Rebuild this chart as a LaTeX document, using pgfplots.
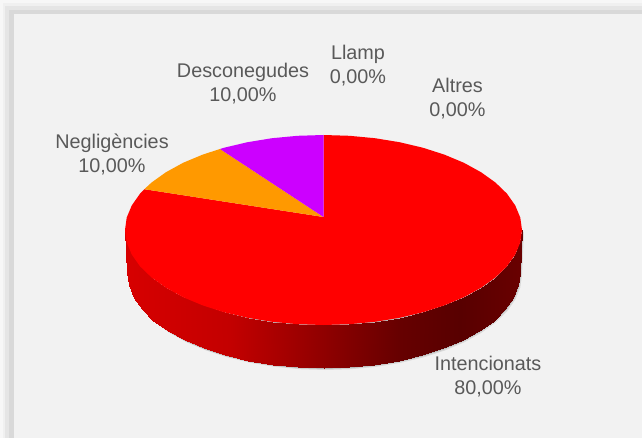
\documentclass[border=0pt]{standalone}
\usepackage{pgfplots}
\pgfplotsset{compat=1.18}
\usepackage{pgfplotstable}
\usepackage{fontspec}
\setmainfont{Liberation Sans}
\definecolor{bg}{HTML}{F2F2F2}
\definecolor{lab}{HTML}{595959}
\definecolor{pieorange}{HTML}{FF9900}
\definecolor{piepurple}{HTML}{CC00FF}
\tikzset{lbl/.style={font=\fontsize{19.8}{24}\selectfont, text=lab, align=center, inner sep=0pt}}

% side of the pie, four corners per strip
\pgfplotstableread{
x y
125.0 230.0
126.7 242.4
128.7 285.4
127.0 273.0
126.7 242.4
131.8 254.6
133.7 297.6
128.7 285.4
131.8 254.6
140.1 266.4
141.9 309.4
133.7 297.6
140.1 266.4
151.6 277.5
153.3 320.5
141.9 309.4
151.6 277.5
166.0 287.8
167.6 330.8
153.3 320.5
166.0 287.8
183.1 297.2
184.5 340.2
167.6 330.8
183.1 297.2
202.7 305.4
203.9 348.4
184.5 340.2
202.7 305.4
224.2 312.3
225.2 355.3
203.9 348.4
224.2 312.3
247.5 317.8
248.3 360.8
225.2 355.3
247.5 317.8
272.1 321.8
272.6 364.8
248.3 360.8
272.1 321.8
297.6 324.2
297.9 367.2
272.6 364.8
297.6 324.2
323.5 325.0
323.5 368.0
297.9 367.2
323.5 325.0
349.4 324.2
349.1 367.2
323.5 368.0
349.4 324.2
374.9 321.8
374.4 364.8
349.1 367.2
374.9 321.8
399.5 317.8
398.7 360.8
374.4 364.8
399.5 317.8
422.8 312.3
421.8 355.3
398.7 360.8
422.8 312.3
444.3 305.4
443.1 348.4
421.8 355.3
444.3 305.4
463.9 297.2
462.5 340.2
443.1 348.4
463.9 297.2
481.0 287.8
479.4 330.8
462.5 340.2
481.0 287.8
495.4 277.5
493.7 320.5
479.4 330.8
495.4 277.5
506.9 266.4
505.1 309.4
493.7 320.5
506.9 266.4
515.2 254.6
513.3 297.6
505.1 309.4
515.2 254.6
520.3 242.4
518.3 285.4
513.3 297.6
520.3 242.4
522.0 230.0
520.0 273.0
518.3 285.4
}\sidestrips

% outline of the whole side, used for the soft shadow
\pgfplotstableread{
x y
125.0 230.0
127.0 273.0
128.7 285.4
133.7 297.6
141.9 309.4
153.3 320.5
167.6 330.8
184.5 340.2
203.9 348.4
225.2 355.3
248.3 360.8
272.6 364.8
297.9 367.2
323.5 368.0
349.1 367.2
374.4 364.8
398.7 360.8
421.8 355.3
443.1 348.4
462.5 340.2
479.4 330.8
493.7 320.5
505.1 309.4
513.3 297.6
518.3 285.4
520.0 273.0
522.0 230.0
}\sideoutline

% slices on top: apex, then rim
\pgfplotstableread{
x y
323.5 217.0
323.5 135.0
349.4 135.8
374.9 138.2
399.5 142.2
422.8 147.7
444.3 154.6
463.9 162.8
481.0 172.2
495.4 182.5
506.9 193.6
515.2 205.4
520.3 217.6
522.0 230.0
520.3 242.4
515.2 254.6
506.9 266.4
495.4 277.5
481.0 287.8
463.9 297.2
444.3 305.4
422.8 312.3
399.5 317.8
374.9 321.8
349.4 324.2
323.5 325.0
297.6 324.2
272.1 321.8
247.5 317.8
224.2 312.3
202.7 305.4
183.1 297.2
166.0 287.8
151.6 277.5
140.1 266.4
131.8 254.6
126.7 242.4
125.0 230.0
126.7 217.6
131.8 205.4
140.1 193.6
144.3 189.2
}\sliceintencionats

\pgfplotstableread{
x y
323.5 217.0
144.3 189.2
151.6 182.5
166.0 172.2
183.1 162.8
202.7 154.6
220.0 149.0
}\slicenegligencies

\pgfplotstableread{
x y
323.5 217.0
220.0 149.0
224.2 147.7
247.5 142.2
272.1 138.2
297.6 135.8
323.5 135.0
}\slicedesconegudes

\begin{document}
\begin{tikzpicture}
\begin{axis}[
    width=642pt, height=438pt,
    scale only axis,
    hide axis,
    xmin=0, xmax=642,
    ymin=0, ymax=438,
    y dir=reverse,
    clip=true,
    colormap={side}{rgb255(125)=(215,0,0) rgb255(230)=(195,0,0) rgb255(320)=(145,0,0) rgb255(400)=(102,0,0) rgb255(460)=(88,0,0) rgb255(522)=(105,0,0)},
    point meta min=125, point meta max=522,
]
% frame around the chart area
\fill[black!3] (axis cs:0,0) rectangle (axis cs:642,438);
\fill[black!6] (axis cs:3,3) rectangle (axis cs:642,438);
\fill[black!10] (axis cs:5,6) rectangle (axis cs:642,438);
\fill[black!15] (axis cs:9,10) rectangle (axis cs:642,438);
\fill[bg] (axis cs:14,14) rectangle (axis cs:642,438);

\addplot[draw=none, fill=black, fill opacity=0.10, forget plot] table[x expr=\thisrow{x}+2, y expr=\thisrow{y}+2] {\sideoutline} -- cycle;
\addplot[draw=none, fill=black, fill opacity=0.15, forget plot] table[x expr=\thisrow{x}+1, y expr=\thisrow{y}+1] {\sideoutline} -- cycle;

\addplot[patch, patch type=rectangle, shader=interp, point meta=explicit, forget plot]
    table[x=x, y=y, meta expr=\thisrow{x}] {\sidestrips};

\addplot[draw=none, fill=red, forget plot] table {\sliceintencionats} -- cycle;
\addplot[draw=none, fill=pieorange, forget plot] table {\slicenegligencies} -- cycle;
\addplot[draw=none, fill=piepurple, forget plot] table {\slicedesconegudes} -- cycle;

\node[lbl] at (axis cs:243,84) {Desconegudes\\10,00\%};
\node[lbl] at (axis cs:358,66) {Llamp\\0,00\%};
\node[lbl] at (axis cs:457.5,99) {Altres\\0,00\%};
\node[lbl] at (axis cs:112,154) {Negligències\\10,00\%};
\node[lbl] at (axis cs:488,377) {Intencionats\\80,00\%};
\end{axis}
\end{tikzpicture}
\end{document}
